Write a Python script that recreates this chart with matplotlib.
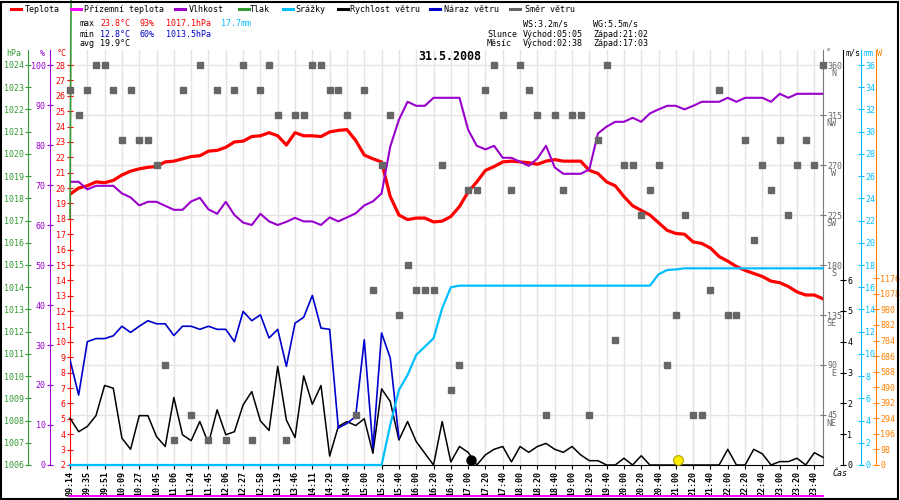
import numpy as np
import matplotlib.pyplot as plt
from matplotlib.lines import Line2D
from matplotlib.patches import Rectangle
from matplotlib.transforms import blended_transform_factory, ScaledTranslation

plt.rcParams['font.family'] = ['DejaVu Sans Mono']

# ---- data (one sample every ~10 min, labels on every 2nd sample) ----
time_labels = ['09:14', '09:35', '09:51', '10:09', '10:27', '10:45', '11:06', '11:24',
               '11:45', '12:06', '12:27', '12:58', '13:19', '13:46', '14:11', '14:29',
               '14:40', '15:00', '15:20', '15:40', '16:00', '16:20', '16:40', '17:00',
               '17:20', '17:40', '18:00', '18:20', '18:40', '19:00', '19:20', '19:40',
               '20:00', '20:20', '20:40', '21:00', '21:20', '21:40', '22:00', '22:20',
               '22:40', '23:00', '23:20', '23:40']

temp = [19.6, 20.0, 20.15, 20.4, 20.35, 20.5, 20.85, 21.1, 21.25, 21.35,
        21.4, 21.7, 21.75, 21.9, 22.05, 22.1, 22.4, 22.45, 22.65, 23.0,
        23.05, 23.35, 23.4, 23.6, 23.4, 22.8, 23.6, 23.4, 23.4, 23.35,
        23.65, 23.75, 23.8, 23.1, 22.15, 21.9, 21.7, 19.45, 18.25, 17.95,
        18.05, 18.05, 17.8, 17.85, 18.15, 18.8, 19.75, 20.4, 21.15, 21.4,
        21.7, 21.75, 21.7, 21.65, 21.55, 21.75, 21.85, 21.75, 21.75, 21.75,
        21.15, 20.95, 20.4, 20.15, 19.45, 18.85, 18.55, 18.25, 17.75, 17.25,
        17.05, 17.0, 16.5, 16.4, 16.1, 15.55, 15.25, 14.9, 14.65, 14.45,
        14.25, 13.95, 13.85, 13.6, 13.25, 13.05, 13.05, 12.8]

ground_temp = [0.0] * len(temp)

humidity = [70.8, 70.8, 68.9, 69.8, 69.8, 69.8, 67.9, 66.9, 64.9, 65.8,
            65.8, 64.8, 63.8, 63.8, 65.9, 66.8, 63.9, 62.8, 65.8, 62.5,
            60.6, 60.0, 62.8, 60.9, 60.0, 60.8, 61.8, 60.9, 60.9, 60.0,
            61.9, 60.9, 61.9, 62.9, 64.9, 65.9, 67.9, 79.6, 86.3, 90.8,
            89.8, 89.8, 91.8, 91.8, 91.8, 91.8, 83.8, 79.8, 78.9, 79.8,
            76.8, 76.8, 75.8, 74.8, 76.6, 79.8, 74.4, 72.8, 72.8, 72.8,
            73.9, 82.9, 84.6, 85.8, 85.8, 86.8, 85.8, 87.9, 88.9, 89.8,
            89.8, 88.9, 89.8, 90.8, 90.8, 90.8, 91.8, 90.8, 91.8, 91.8,
            91.8, 90.8, 92.8, 91.8, 92.8, 92.8, 92.8, 92.8]

# pressure sensor: one valid reading, then a bogus spike that shoots off the chart
pressure = [1017.1, 1100.0] + [np.nan] * (len(temp) - 2)

rain = [0.0] * 37 + [3.6, 6.75, 8.1, 9.9, 10.65, 11.4, 14.1, 16.0] + [16.14] * 23 \
       + [17.16, 17.55, 17.6] + [17.7] * 17

wind = [1.52, 1.08, 1.25, 1.6, 2.58, 2.49, 0.87, 0.51, 1.6, 1.6,
        0.92, 0.6, 2.19, 0.98, 0.79, 1.41, 0.7, 1.79, 0.98, 1.08,
        1.95, 2.38, 1.43, 1.12, 3.2, 1.46, 0.89, 2.89, 1.97, 2.58,
        0.29, 1.25, 1.41, 1.28, 1.5, 0.38, 2.47, 2.06, 0.81, 1.41,
        0.76, 0.38, 0.0, 1.41, 0.1, 0.6, 0.41, 0.0, 0.33, 0.51,
        0.6, 0.1, 0.6, 0.41, 0.6, 0.7, 0.51, 0.41, 0.6, 0.33,
        0.14, 0.14, 0.0, 0.0, 0.22, 0.0, 0.3, 0.0, 0.0, 0.0,
        0.0, 0.0, 0.0, 0.0, 0.0, 0.0, 0.51, 0.0, 0.0, 0.51,
        0.36, 0.0, 0.11, 0.11, 0.22, 0.0, 0.4, 0.25]

gust = [3.41, 2.27, 4.0, 4.1, 4.1, 4.19, 4.5, 4.3, 4.5, 4.68,
        4.58, 4.58, 4.2, 4.5, 4.5, 4.4, 4.5, 4.4, 4.4, 4.0,
        4.98, 4.68, 4.87, 4.12, 4.4, 3.2, 4.6, 4.79, 5.5, 4.44,
        4.4, 1.2, 1.35, 1.57, 4.06, 0.54, 4.28, 3.47, 0.87] + [np.nan] * 49

direction = [337.5, 315, 337.5, 360, 360, 337.5, 292.5, 337.5, 292.5, 292.5,
             270, 90, 22.5, 337.5, 45, 360, 22.5, 337.5, 22.5, 337.5,
             360, 22.5, 337.5, 360, 315, 22.5, 315, 315, 360, 360,
             337.5, 337.5, 315, 45, 337.5, 157.5, 270, 315, 135, 180,
             157.5, 157.5, 157.5, 270, 67.5, 90, 247.5, 247.5, 337.5, 360,
             315, 247.5, 360, 337.5, 315, 45, 315, 247.5, 315, 315,
             45, 292.5, 360, 112.5, 270, 270, 225, 247.5, 270, 90,
             135, 225, 45, 45, 157.5, 337.5, 135, 135, 292.5, 202.5,
             270, 247.5, 292.5, 225, 270, 292.5, 270, 360]

deg_ticks = [45, 90, 135, 180, 225, 270, 315, 360]
deg_names = ['NE', 'E', 'SE', 'S', 'SW', 'W', 'NW', 'N']

stats_left = [
    [('max', 'black'), ('23.8°C', 'red'), ('93%', 'red'), ('1017.1hPa', 'red'), ('17.7mm', '#00bfff')],
    [('min', 'black'), ('12.8°C', '#0000cc'), ('60%', '#0000cc'), ('1013.5hPa', '#0000cc')],
    [('avg', 'black'), ('19.9°C', 'black')],
]
stats_right = [
    ['', 'WS:3.2m/s', 'WG:5.5m/s'],
    ['Slunce', 'Východ:05:05', 'Západ:21:02'],
    ['Měsíc', 'Východ:02:38', 'Západ:17:03'],
]
sunset, moonset = '21:02', '17:03'

legend_items = [('Teplota', 'red'), ('Přízemní teplota', '#ff00ff'), ('Vlhkost', '#9900cc'),
                ('Tlak', '#339933'), ('Srážky', '#00bfff'), ('Rychlost větru', 'black'),
                ('Náraz větru', '#0000cc'), ('Směr větru', '#666666')]

# ---- layout helpers (pixel -> figure fraction) ----
W_PX, H_PX = 900, 500
FS = 6.0
DEG_COL = '#666666'


def fx(x):
    return x / W_PX


def fy(y):
    return 1 - y / H_PX


n = len(temp)
idx = np.arange(n)
label_pos = idx[::2][:len(time_labels)]

fig = plt.figure(figsize=(9, 5), dpi=100)
fig.patch.set_facecolor('white')

ax = fig.add_axes([fx(70), fy(465), (823 - 70) / W_PX, (465 - 50) / H_PX])
ax.set_xlim(0, n - 1)
ax.set_ylim(0, 415 * 360 / 400)
for s in ['top', 'left']:
    ax.spines[s].set_visible(False)
ax.spines['right'].set_color('#777777')
ax.spines['bottom'].set_color('black')
ax.set_xticks(label_pos)
ax.set_xticklabels(time_labels, rotation=90, fontsize=FS, fontweight='bold')
ax.tick_params(axis='x', direction='out', length=3, width=0.8, pad=1)
ax.grid(True, color='#e8e2e2', lw=1.0)
ax.set_axisbelow(True)


def side_axis(side, offset_px, color, lim, ticks):
    a = ax.twinx()
    for s in a.spines.values():
        s.set_visible(False)
    sp = a.spines[side]
    sp.set_visible(True)
    sp.set_color(color)
    sp.set_position(('outward', offset_px * 0.72))
    if side == 'left':
        a.yaxis.tick_left()
    else:
        a.yaxis.tick_right()
    a.set_ylim(*lim)
    a.set_yticks(ticks)
    a.tick_params(axis='y', direction='inout', length=4, width=0.8, color=color,
                  labelcolor=color, labelsize=FS, pad=1)
    return a


ax_t = side_axis('left', 0, 'red', (2, 2 + 415 * 26 / 400), range(2, 29))
ax_h = side_axis('left', 20, '#9900cc', (0, 415 * 100 / 400), range(0, 101, 10))
ax_p = side_axis('left', 42, '#339933', (1006, 1006 + 415 * 18 / 400), range(1006, 1025))
ax_ws = side_axis('right', 20, 'black', (0, 415 * 6 / 185), range(0, 7))
ax_mm = side_axis('right', 38, '#00bfff', (0, 415 * 36 / 400), range(0, 37, 2))
ax_w = side_axis('right', 53, '#ff8000', (0, 415 * 1176 / 186.7), range(0, 1177, 98))
ax_dir = ax.twinx()
ax_dir.set_ylim(ax.get_ylim())
ax_dir.axis('off')

# twinx() moves the base y axis to the left, so put the wind-direction scale back on the right
ax.yaxis.tick_right()
ax.set_yticks(deg_ticks)
ax.set_yticklabels([str(d) for d in deg_ticks])
ax.tick_params(axis='y', which='both', left=False, labelleft=False, right=True, labelright=True,
               direction='inout', length=4, width=0.8, color='#777777',
               labelcolor=DEG_COL, labelsize=FS, pad=1)

tr_names = blended_transform_factory(fig.transFigure, ax.transData) + \
    ScaledTranslation(0, -4 / 100, fig.dpi_scale_trans)
for d, name in zip(deg_ticks, deg_names):
    ax.text(fx(836), d, name, transform=tr_names, ha='right', va='top',
            fontsize=FS, color=DEG_COL)

# ---- series ----
ax_t.plot(idx, temp, color='red', lw=2.3, solid_joinstyle='round')
ax_t.plot(idx, ground_temp, color='#ff00ff', lw=1.4, clip_on=False)
ax_h.plot(idx, humidity, color='#9900cc', lw=1.5)
ax_p.plot(idx, pressure, color='#339933', lw=1.2, clip_on=False)
ax_mm.plot(idx, rain, color='#00bfff', lw=1.6, clip_on=False, zorder=5)
ax_ws.plot(idx, wind, color='black', lw=1.1, clip_on=False)
ax_ws.plot(idx, gust, color='#0000cc', lw=1.2)
ax_dir.plot(idx, direction, ls='none', marker='s', ms=4.0, color='#666666', clip_on=False)

# sun / moon set markers, placed by time along the sample axis
label_min = [int(t[:2]) * 60 + int(t[3:]) for t in time_labels]


def time_to_idx(t):
    return np.interp(int(t[:2]) * 60 + int(t[3:]), label_min, label_pos)


marker_level = 4.5
ax_dir.plot([time_to_idx(moonset)], [marker_level], 'o', ms=6.5, color='black', clip_on=False)
ax_dir.plot([time_to_idx(sunset)], [marker_level], 'o', ms=7, mfc='#ffee00',
            mec='#b0a000', mew=0.8, clip_on=False)

# ---- unit labels ----
for txt, x, c in [('hPa', 6, '#339933'), ('%', 40, '#9900cc'), ('°C', 57, 'red'),
                  ('°', 826, DEG_COL), ('m/s', 845, 'black'), ('mm', 863, '#00bfff'),
                  ('W', 877, '#ff8000')]:
    fig.text(fx(x), fy(53), txt, fontsize=FS, color=c, ha='left', va='center')
fig.text(fx(833), fy(474), 'Čas', fontsize=FS, style='italic', ha='left', va='center')

# ---- header ----
legend_x = [(11, 25), (71, 84), (175, 189), (239, 250), (283, 295), (338, 350), (430, 444), (510, 525)]
for (label, color), (lx, tx) in zip(legend_items, legend_x):
    fig.add_artist(Line2D([fx(lx), fx(lx + 10)], [fy(9), fy(9)], color=color, lw=2.2,
                          transform=fig.transFigure))
    fig.text(fx(tx), fy(9), label, fontsize=FS, ha='left', va='center')

col_left = [80, 100, 139, 166, 221]
for r, row in enumerate(stats_left):
    for (txt, c), x in zip(row, col_left):
        fig.text(fx(x), fy(24 + 10 * r), txt, fontsize=FS, color=c, ha='left', va='center')

col_right = [487, 523, 593]
for r, row in enumerate(stats_right):
    for txt, x in zip(row, col_right):
        fig.text(fx(x), fy(24 + 10 * r), txt, fontsize=FS, ha='left', va='center')

fig.text(fx(449.5), fy(57), '31.5.2008', fontsize=8.4, fontweight='bold', ha='center', va='center')

fig.add_artist(Rectangle((0.001, 0.002), 0.997, 0.995, transform=fig.transFigure,
                         fill=False, ec='black', lw=1.5))

fig.savefig('out.png', dpi=100)
